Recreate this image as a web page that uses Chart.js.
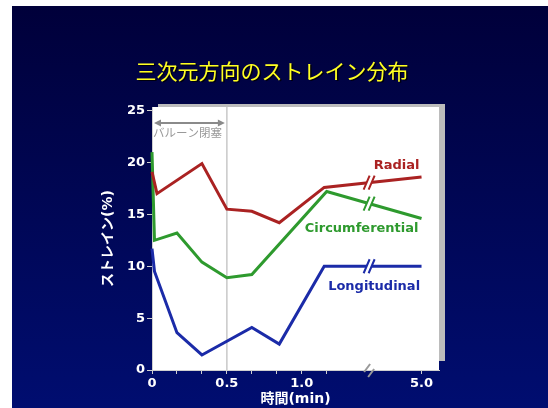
<!DOCTYPE html>
<html>
<head>
<meta charset="utf-8">
<script src="https://cdn.jsdelivr.net/npm/chart.js@4.4.1/dist/chart.umd.min.js"></script>
<style>
  html, body { margin: 0; padding: 0; background: #fff; overflow: hidden; }
  #wrap { position: relative; width: 548px; height: 408px; }
</style>
</head>
<body>
<div id="wrap"><canvas id="c" width="548" height="408"></canvas></div>
<script>
// Strain (%) over time after balloon occlusion, three directions.
// Times are in seconds; the axis is broken between the early phase and 5 min.
const chartTitle = '三次元方向のストレイン分布';
const seriesNames = ['Radial', 'Circumferential', 'Longitudinal'];

const radialTime = [0, 2, 20, 30, 40, 51, 69, 300];
const radialStrain = [19.1, 17.0, 19.9, 15.5, 15.3, 14.2, 17.6, 18.6];

const circTime = [0, 1, 10, 20, 30, 40, 70, 300];
const circStrain = [21.0, 12.5, 13.2, 10.4, 8.9, 9.2, 17.2, 14.6];

const longTime = [0, 1, 10, 20, 40, 51, 69, 300];
const longStrain = [11.7, 9.5, 3.6, 1.45, 4.1, 2.5, 10.0, 10.0];

const xTickTimes = [0, 10, 20, 30, 40, 50, 60, 70, 300];
const xTickLabels = { 0: '0', 30: '0.5', 60: '1.0', 300: '5.0' };
const occlusionEnd = 30;        // balloon occlusion lasts 0.5 min
const occlusionLabel = 'バルーン閉塞';

// Axis position: 10 s per unit up to the break, 5 min placed after it.
const BREAK_SEC = 80;
function axisPos(sec) { return sec <= BREAK_SEC ? sec / 10 : 10.8 + (sec - 300) / 10; }
const breakPos = 8.7;

const colors = ['#AA2222', '#2E9A2E', '#1B2BA8'];
const labelAt = [ { x: 9.8, y: 19.7 }, { x: 8.4, y: 13.6 }, { x: 8.9, y: 8.0 } ];

function toPoints(times, vals) { return times.map((t, i) => ({ x: axisPos(t), y: vals[i] })); }

const slidePlugin = {
  id: 'slide',
  beforeDraw(chart) {
    const ctx = chart.ctx, a = chart.chartArea;
    ctx.save();
    ctx.fillStyle = '#fff';
    ctx.fillRect(0, 0, chart.width, chart.height);
    const g = ctx.createLinearGradient(0, 6, 0, chart.height);
    g.addColorStop(0, '#00003a');
    g.addColorStop(1, '#000d70');
    ctx.fillStyle = g;
    ctx.fillRect(12, 6, chart.width - 12, chart.height - 6);
    // plot panel with a soft shadow
    ctx.fillStyle = '#bcbcbc';
    ctx.fillRect(a.left + 6, a.top - 3, a.width, a.height - 6);
    ctx.fillStyle = '#fff';
    ctx.fillRect(a.left, a.top, a.width, a.height);
    // title
    ctx.font = '21px "Noto Sans CJK JP"';
    ctx.textAlign = 'center';
    ctx.textBaseline = 'middle';
    ctx.fillStyle = 'rgba(0,0,0,0.8)';
    ctx.fillText(chartTitle, 272 + 1.5, 71 + 1.5);
    ctx.fillStyle = '#FFFF22';
    ctx.fillText(chartTitle, 272, 71);
    ctx.restore();
  },
  beforeDatasetsDraw(chart) {
    const ctx = chart.ctx, a = chart.chartArea, xs = chart.scales.x;
    const xo = xs.getPixelForValue(axisPos(occlusionEnd));
    ctx.save();
    ctx.strokeStyle = '#c8c8c8';
    ctx.lineWidth = 1.5;
    ctx.beginPath();
    ctx.moveTo(xo, a.top);
    ctx.lineTo(xo, a.bottom);
    ctx.stroke();
    // double-headed arrow over the occlusion period
    const x0 = a.left + 2, x1 = xo - 2, ya = 123;
    ctx.strokeStyle = '#8a8a8a';
    ctx.fillStyle = '#8a8a8a';
    ctx.lineWidth = 2;
    ctx.beginPath();
    ctx.moveTo(x0 + 5, ya);
    ctx.lineTo(x1 - 5, ya);
    ctx.stroke();
    ctx.beginPath();
    ctx.moveTo(x0, ya); ctx.lineTo(x0 + 7, ya - 3.5); ctx.lineTo(x0 + 7, ya + 3.5); ctx.closePath();
    ctx.moveTo(x1, ya); ctx.lineTo(x1 - 7, ya - 3.5); ctx.lineTo(x1 - 7, ya + 3.5); ctx.closePath();
    ctx.fill();
    ctx.font = '11.5px "Noto Sans CJK JP"';
    ctx.fillStyle = '#999';
    ctx.textAlign = 'left';
    ctx.textBaseline = 'middle';
    ctx.fillText(occlusionLabel, a.left + 1, 133);
    ctx.restore();
  },
  afterDatasetsDraw(chart) {
    const ctx = chart.ctx, a = chart.chartArea, xs = chart.scales.x, ys = chart.scales.y;
    const xb = xs.getPixelForValue(breakPos);
    ctx.save();
    // break marks on each line
    chart.data.datasets.forEach((ds, i) => {
      const pts = chart.getDatasetMeta(i).data;
      let yb = null;
      for (let k = 1; k < pts.length; k++) {
        if (pts[k - 1].x <= xb && pts[k].x >= xb) {
          const t = (xb - pts[k - 1].x) / (pts[k].x - pts[k - 1].x);
          yb = pts[k - 1].y + t * (pts[k].y - pts[k - 1].y);
        }
      }
      if (yb === null) return;
      const h = 7, s = 3, gap = 2.5;
      ctx.fillStyle = '#fff';
      ctx.beginPath();
      ctx.moveTo(xb - gap - s, yb + h);
      ctx.lineTo(xb - gap + s, yb - h);
      ctx.lineTo(xb + gap + s, yb - h);
      ctx.lineTo(xb + gap - s, yb + h);
      ctx.closePath();
      ctx.fill();
      ctx.strokeStyle = ds.borderColor;
      ctx.lineWidth = 2;
      ctx.beginPath();
      ctx.moveTo(xb - gap - s, yb + h); ctx.lineTo(xb - gap + s, yb - h);
      ctx.moveTo(xb + gap - s, yb + h); ctx.lineTo(xb + gap + s, yb - h);
      ctx.stroke();
    });
    // series names beside their lines
    ctx.font = 'bold 13px "DejaVu Sans"';
    ctx.textAlign = 'center';
    ctx.textBaseline = 'middle';
    seriesNames.forEach((n, i) => {
      ctx.fillStyle = colors[i];
      ctx.fillText(n, xs.getPixelForValue(labelAt[i].x), ys.getPixelForValue(labelAt[i].y));
    });
    ctx.restore();
  },
  afterDraw(chart) {
    const ctx = chart.ctx, a = chart.chartArea, xs = chart.scales.x;
    const xb = xs.getPixelForValue(breakPos);
    ctx.save();
    ctx.strokeStyle = '#9a9a9a';
    ctx.lineWidth = 2;
    ctx.beginPath();
    ctx.moveTo(xb - 5, a.bottom + 2); ctx.lineTo(xb + 1, a.bottom - 6);
    ctx.moveTo(xb - 1, a.bottom + 7); ctx.lineTo(xb + 5, a.bottom - 1);
    ctx.stroke();
    ctx.restore();
  }
};

const ds = (i, times, vals) => ({
  label: seriesNames[i],
  data: toPoints(times, vals),
  borderColor: colors[i],
  backgroundColor: colors[i],
  borderWidth: 3,
  pointRadius: 0,
  tension: 0,
  fill: false,
  clip: 6
});

new Chart(document.getElementById('c'), {
  type: 'line',
  data: {
    datasets: [ ds(0, radialTime, radialStrain), ds(1, circTime, circStrain), ds(2, longTime, longStrain) ]
  },
  options: {
    responsive: false,
    animation: false,
    events: [],
    layout: { padding: { left: 92, top: 107, right: 109, bottom: 0 } },
    plugins: { legend: { display: false }, title: { display: false }, tooltip: { enabled: false } },
    scales: {
      x: {
        type: 'linear',
        min: 0,
        max: 11.5,
        afterFit(s) { s.height = 38; },
        afterBuildTicks(s) { s.ticks = xTickTimes.map(t => ({ value: axisPos(t) })); },
        ticks: {
          autoSkip: false,
          maxRotation: 0,
          padding: 2,
          color: '#fff',
          font: { family: 'DejaVu Sans', size: 13, weight: 'bold' },
          callback(v, i) { return xTickLabels[xTickTimes[i]] ?? ''; }
        },
        grid: { drawOnChartArea: false, drawTicks: true, tickLength: 4, color: '#cfcfcf' },
        border: { display: true, color: '#cfcfcf', width: 1 },
        title: {
          display: true,
          text: '時間(min)',
          color: '#fff',
          font: { family: '"DejaVu Sans", "Noto Sans CJK JP"', size: 14, weight: 'bold' },
          padding: { top: 0, bottom: 0 }
        }
      },
      y: {
        min: 0,
        max: 25.35,
        afterFit(s) { s.width = 60; },
        ticks: {
          stepSize: 5,
          includeBounds: false,
          padding: 2,
          color: '#fff',
          font: { family: 'DejaVu Sans', size: 13, weight: 'bold' }
        },
        grid: { drawOnChartArea: false, drawTicks: true, tickLength: 5, color: '#cfcfcf' },
        border: { display: true, color: '#cfcfcf', width: 1 },
        title: {
          display: true,
          text: 'ストレイン(%)',
          color: '#fff',
          font: { family: '"DejaVu Sans", "Noto Sans CJK JP"', size: 14, weight: 'bold' },
          padding: { top: 8, bottom: 0 }
        }
      }
    }
  },
  plugins: [slidePlugin]
});
</script>
</body>
</html>
